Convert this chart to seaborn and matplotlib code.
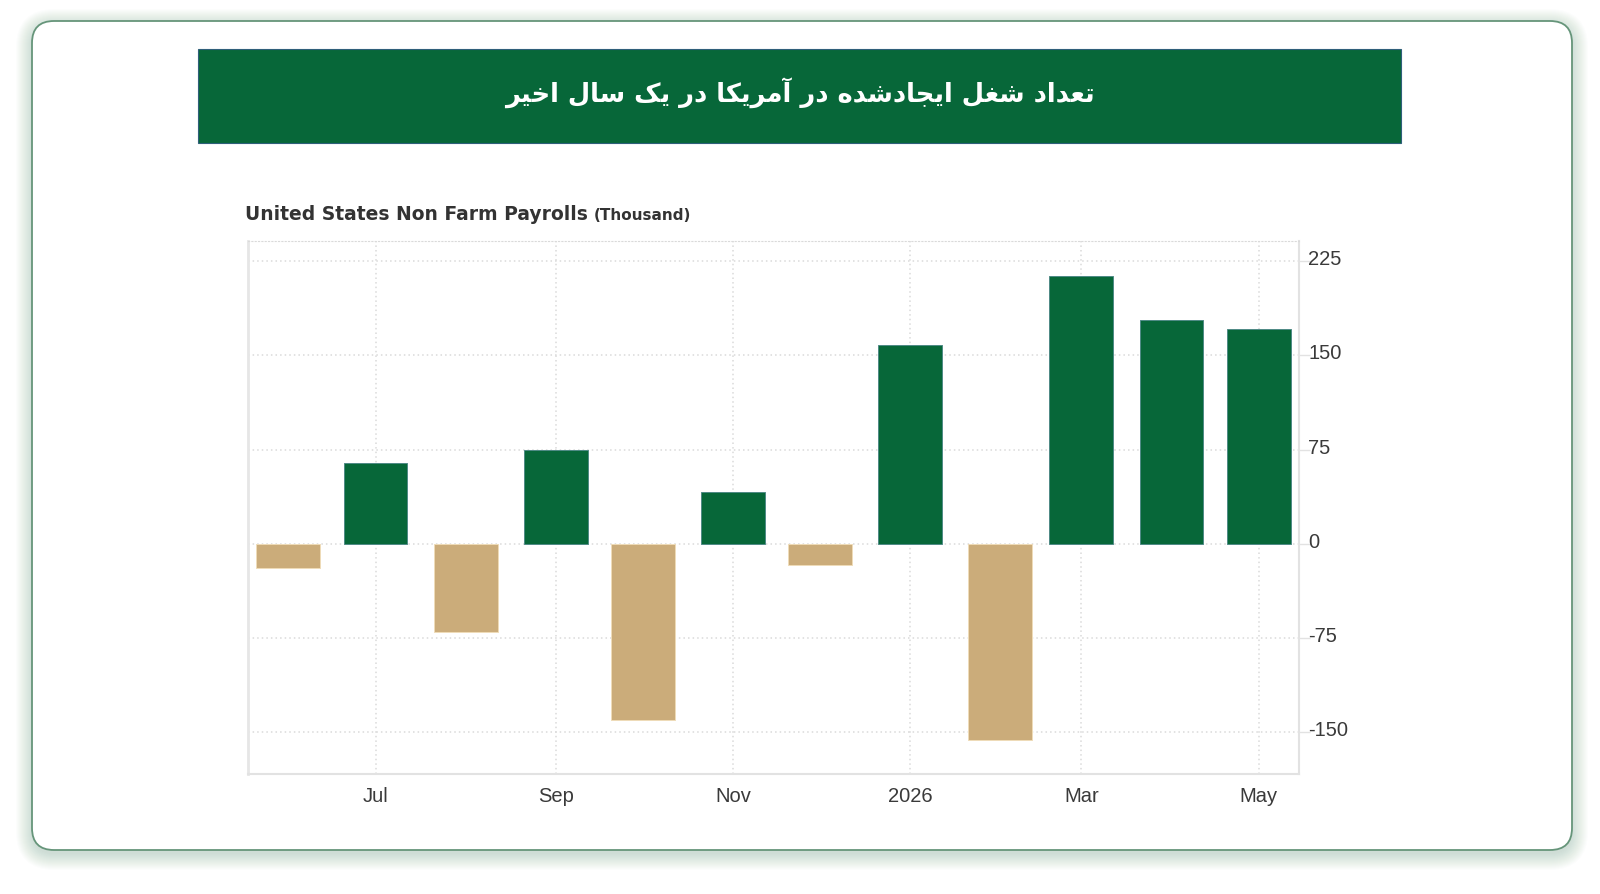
import matplotlib
matplotlib.use("Agg")
import matplotlib.pyplot as plt
import matplotlib.dates as mdates
import matplotlib.transforms as mtransforms
from matplotlib.patches import FancyBboxPatch, Rectangle
import seaborn as sns
import pandas as pd

# Monthly change in US non farm payrolls (thousand), Jun 2025 - May 2026
months = ["2025-06-01", "2025-07-01", "2025-08-01", "2025-09-01", "2025-10-01", "2025-11-01",
          "2025-12-01", "2026-01-01", "2026-02-01", "2026-03-01", "2026-04-01", "2026-05-01"]
payrolls = [-19, 64, -70, 75, -140, 41, -17, 158, -156, 213, 178, 171]

tick_dates = ["2025-07-01", "2025-09-01", "2025-11-01", "2026-01-01", "2026-03-01", "2026-05-01"]
tick_labels = ["Jul", "Sep", "Nov", "2026", "Mar", "May"]
y_ticks = [-150, -75, 0, 75, 150, 225]

title_fa = "تعداد شغل ایجادشده در آمریکا در یک سال اخیر"
subtitle = "United States Non Farm Payrolls"
unit = "(Thousand)"

GREEN = "#076739"
TAN = "#CBAC7A"

# matplotlib has no arabic shaping, so map letters to presentation forms by hand
DUAL = {
    "ت": (0xFE95, 0xFE96, 0xFE97, 0xFE98), "ج": (0xFE9D, 0xFE9E, 0xFE9F, 0xFEA0),
    "خ": (0xFEA5, 0xFEA6, 0xFEA7, 0xFEA8), "س": (0xFEB1, 0xFEB2, 0xFEB3, 0xFEB4),
    "ش": (0xFEB5, 0xFEB6, 0xFEB7, 0xFEB8), "ع": (0xFEC9, 0xFECA, 0xFECB, 0xFECC),
    "غ": (0xFECD, 0xFECE, 0xFECF, 0xFED0), "ل": (0xFEDD, 0xFEDE, 0xFEDF, 0xFEE0),
    "م": (0xFEE1, 0xFEE2, 0xFEE3, 0xFEE4), "ه": (0xFEE9, 0xFEEA, 0xFEEB, 0xFEEC),
    "ک": (0xFB8E, 0xFB8F, 0xFB90, 0xFB91), "ی": (0xFBFC, 0xFBFD, 0xFBFE, 0xFBFF),
}
RIGHT = {"ا": (0xFE8D, 0xFE8E), "آ": (0xFE81, 0xFE82), "د": (0xFEA9, 0xFEAA), "ر": (0xFEAD, 0xFEAE)}


def shape_rtl(text):
    out = []
    for i, ch in enumerate(text):
        if ch not in DUAL and ch not in RIGHT:
            out.append(ch)
            continue
        prev = text[i - 1] if i > 0 else ""
        nxt = text[i + 1] if i + 1 < len(text) else ""
        join_prev = prev in DUAL
        join_next = ch in DUAL and (nxt in DUAL or nxt in RIGHT)
        if ch in RIGHT:
            code = RIGHT[ch][1] if join_prev else RIGHT[ch][0]
        else:
            iso, fin, ini, med = DUAL[ch]
            if join_prev and join_next:
                code = med
            elif join_prev:
                code = fin
            elif join_next:
                code = ini
            else:
                code = iso
        out.append(chr(code))
    return "".join(reversed(out))


df = pd.DataFrame({"date": pd.to_datetime(months), "value": payrolls})
df["x"] = mdates.date2num(df["date"])
df["sign"] = ["pos" if v >= 0 else "neg" for v in df["value"]]

sns.set_style("white")
plt.rcParams["font.family"] = ["Liberation Sans", "DejaVu Sans"]
plt.rcParams["axes.unicode_minus"] = False

W, H = 1600, 894
fig = plt.figure(figsize=(16, 8.94), dpi=100)
fig.patch.set_facecolor("white")

# background layer in pixel units: card, shadow, banner
bg = fig.add_axes([0, 0, 1, 1], zorder=-1)
bg.set_xlim(0, W)
bg.set_ylim(H, 0)
bg.axis("off")

cx0, cy0, cx1, cy1, rad = 32, 21, 1572, 850, 22
for s in range(1, 18):
    bg.add_patch(FancyBboxPatch((cx0 - s + 1, cy0 - s + 5), cx1 - cx0 + 2 * s - 2, cy1 - cy0 + 2 * s - 2,
                                boxstyle=f"round,pad=0,rounding_size={rad + s}",
                                facecolor="#6f9a84", edgecolor="none", alpha=0.02))
bg.add_patch(FancyBboxPatch((cx0, cy0), cx1 - cx0, cy1 - cy0,
                            boxstyle=f"round,pad=0,rounding_size={rad}",
                            facecolor="white", edgecolor="#66957a", linewidth=1.3))

bg.add_patch(Rectangle((198, 49), 1203, 94, facecolor=GREEN, edgecolor="#2f5f7a", linewidth=0.8))
bg.text(800, 93, shape_rtl(title_fa), color="white", fontsize=18.5, fontweight="bold",
        ha="center", va="center", family=["DejaVu Sans"])

# chart
ax = fig.add_axes([247.7 / W, 1 - 774.3 / H, (1299.3 - 247.7) / W, (774.3 - 241) / H])
ax.set_facecolor("white")
sns.barplot(data=df, x="x", y="value", hue="sign", palette={"pos": GREEN, "neg": TAN},
            native_scale=True, width=22 / 28, legend=False, errorbar=None,
            saturation=1, linewidth=0.7, ax=ax)
for bar in ax.patches:
    bar.set_edgecolor("#4f8a86" if bar.get_facecolor()[1] < 0.5 else "#efdcb8")

ax.set_xlim(mdates.date2num(pd.Timestamp("2025-05-18")), mdates.date2num(pd.Timestamp("2026-05-15")))
ax.set_ylim(-183.5, 241)
ax.set_xticks(mdates.date2num(pd.to_datetime(tick_dates)))
ax.set_xticklabels(tick_labels)
ax.set_yticks(y_ticks)
ax.yaxis.tick_right()
ax.set_xlabel("")
ax.set_ylabel("")
ax.tick_params(axis="x", length=0, pad=9, labelsize=14.5, labelcolor="#3a3a3a")
ax.tick_params(axis="y", length=8, width=1, color="#e2e2e2", pad=-1.5, labelsize=14.5, labelcolor="#3a3a3a")
lift = mtransforms.ScaledTranslation(0, 3.5 / 100, fig.dpi_scale_trans)
for lab in ax.get_yticklabels():
    lab.set_verticalalignment("center_baseline")
    lab.set_transform(lab.get_transform() + lift)

ax.grid(True, color="#dadada", linestyle=(0, (1, 2)), linewidth=1.1)
ax.set_axisbelow(True)
ax.spines["left"].set_color("#e6e6e6")
ax.spines["left"].set_linewidth(2)
ax.spines["right"].set_color("#e2e2e2")
ax.spines["right"].set_linewidth(1.5)
ax.spines["bottom"].set_color("#e2e2e2")
ax.spines["bottom"].set_linewidth(1.5)
ax.spines["top"].set_color("#dadada")
ax.spines["top"].set_linestyle((0, (1, 2)))

t1 = fig.text(245 / W, 1 - 214 / H, subtitle, fontsize=13.5, fontweight="bold", color="#333333",
              ha="left", va="center", family=["DejaVu Sans"])
ax.annotate(unit, xy=(1, 0), xycoords=t1, xytext=(4, 0), textcoords="offset points",
            fontsize=11, fontweight="bold", color="#333333", ha="left", va="bottom",
            family=["DejaVu Sans"], annotation_clip=False)

fig.savefig("out.png", dpi=100)
